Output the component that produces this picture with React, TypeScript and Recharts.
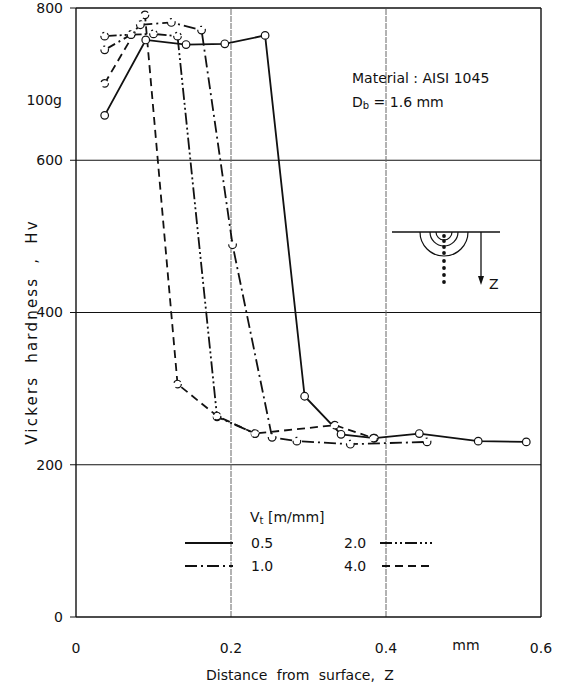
import React from 'react';
import { LineChart, Line, XAxis, YAxis, CartesianGrid, ReferenceLine } from 'recharts';

// distance from surface (mm) and hardness (Hv) for each feed rate Vt
const z05 = [0.037, 0.09, 0.142, 0.192, 0.244, 0.295, 0.342, 0.385, 0.443, 0.519, 0.581];
const hv05 = [659, 758, 752, 753, 764, 290, 240, 235, 241, 231, 230];

const z10 = [0.037, 0.071, 0.083, 0.123, 0.162, 0.202, 0.253, 0.285, 0.354, 0.453];
const hv10 = [745, 765, 778, 781, 771, 489, 236, 231, 227, 230];

const z20 = [0.037, 0.071, 0.1, 0.131, 0.182, 0.231];
const hv20 = [763, 765, 766, 763, 263, 241];

const z40 = [0.037, 0.089, 0.131, 0.182, 0.231, 0.334, 0.384];
const hv40 = [701, 791, 306, 264, 241, 252, 235];

const xTicks = [0, 0.2, 0.4, 0.6];
const yTicks = [0, 200, 400, 600, 800];

const toRows = (zs: number[], hs: number[]) => zs.map((z, i) => ({ z, hv: hs[i] }));

const series = [
  { name: '0.5', data: toRows(z05, hv05), dash: undefined },
  { name: '1.0', data: toRows(z10, hv10), dash: '12 4 2 4' },
  { name: '2.0', data: toRows(z20, hv20), dash: '12 3 2 3 2 3' },
  { name: '4.0', data: toRows(z40, hv40), dash: '8 5' },
];

const dot = { r: 3.8, fill: '#fff', stroke: '#111', strokeWidth: 1.2 };
const font = '"DejaVu Sans", sans-serif';

const App: React.FC = () => {
  return (
    <div style={{ position: 'absolute', left: 0, top: 0, width: 562, height: 683, background: '#fff', fontFamily: font }}>
      <LineChart width={562} height={683} margin={{ top: 8, right: 21, bottom: 16, left: 0 }}>
        <CartesianGrid vertical={false} stroke="#111" strokeWidth={1.2} horizontalValues={[200, 400, 600]} />
        <ReferenceLine x={0.2} stroke="#666" strokeWidth={1} strokeDasharray="6 1" />
        <ReferenceLine x={0.4} stroke="#666" strokeWidth={1} strokeDasharray="6 1" />
        <ReferenceLine x={0.6} stroke="#111" strokeWidth={1.4} />
        <ReferenceLine y={800} stroke="#111" strokeWidth={1.4} />
        <XAxis
          dataKey="z"
          type="number"
          domain={[0, 0.6]}
          ticks={xTicks}
          tickFormatter={(v: number) => (v === 0 ? '0' : String(v))}
          tickLine={false}
          tickMargin={20}
          height={50}
          axisLine={{ stroke: '#111', strokeWidth: 1.4 }}
          tick={{ fill: '#111', fontSize: 14 }}
        />
        <YAxis
          dataKey="hv"
          type="number"
          domain={[0, 800]}
          ticks={yTicks}
          width={76}
          tickMargin={7}
          tickLine={{ stroke: '#111' }}
          axisLine={{ stroke: '#111', strokeWidth: 1.4 }}
          tick={{ fill: '#111', fontSize: 14 }}
        />
        {series.map((s) => (
          <Line
            key={s.name}
            data={s.data}
            dataKey="hv"
            type="linear"
            stroke="#111"
            strokeWidth={1.8}
            strokeDasharray={s.dash}
            dot={dot}
            activeDot={false}
            isAnimationActive={false}
          />
        ))}
      </LineChart>

      <svg
        width={562}
        height={683}
        style={{ position: 'absolute', left: 0, top: 0, pointerEvents: 'none', fontFamily: font }}
      >
        <text x={62} y={105} fontSize={14} textAnchor="end" fill="#111">100g</text>
        <text x={466} y={650} fontSize={14} textAnchor="middle" fill="#111">mm</text>
        <text x={300} y={680} fontSize={14} textAnchor="middle" fill="#111" wordSpacing={5}>
          Distance from surface, Z
        </text>
        <text
          x={0}
          y={0}
          fontSize={15}
          textAnchor="middle"
          fill="#111"
          letterSpacing={2.2}
          wordSpacing={6}
          transform="translate(37 332) rotate(-90)"
        >
          Vickers hardness , Hv
        </text>

        <text x={352} y={83} fontSize={14} fill="#111">Material : AISI 1045</text>
        <text x={352} y={107} fontSize={14} fill="#111">
          D<tspan fontSize={10} dy={2}>b</tspan>
          <tspan dy={-2}> = 1.6 mm</tspan>
        </text>

        {/* indentation sketch */}
        <line x1={392} y1={232} x2={500} y2={232} stroke="#111" strokeWidth={1.3} />
        <path d="M 436 232 A 8 8 0 0 0 452 232" fill="none" stroke="#111" strokeWidth={1.2} />
        <path d="M 430 232 A 14 14 0 0 0 458 232" fill="none" stroke="#111" strokeWidth={1.2} />
        <path d="M 420 232 A 24 24 0 0 0 468 232" fill="none" stroke="#111" strokeWidth={1.2} />
        {[236, 241, 247, 253, 261, 268, 275, 282].map((y) => (
          <circle key={y} cx={444} cy={y} r={1.9} fill="#111" />
        ))}
        <line x1={481} y1={232} x2={481} y2={278} stroke="#111" strokeWidth={1.3} />
        <path d="M 478 276 L 481 285 L 484 276 Z" fill="#111" />
        <text x={489} y={289} fontSize={14} fill="#111">Z</text>

        {/* legend */}
        <text x={250} y={522} fontSize={14} fill="#111">
          V<tspan fontSize={10} dy={2}>t</tspan>
          <tspan dy={-2}> [m/mm]</tspan>
        </text>
        <line x1={185} y1={543} x2={233} y2={543} stroke="#111" strokeWidth={1.8} />
        <text x={251} y={548} fontSize={14} fill="#111">0.5</text>
        <text x={344} y={548} fontSize={14} fill="#111">2.0</text>
        <line x1={380} y1={543} x2={432} y2={543} stroke="#111" strokeWidth={1.8} strokeDasharray="12 3 2 3 2 3" />
        <line x1={185} y1={566} x2={233} y2={566} stroke="#111" strokeWidth={1.8} strokeDasharray="12 4 2 4" />
        <text x={251} y={571} fontSize={14} fill="#111">1.0</text>
        <text x={344} y={571} fontSize={14} fill="#111">4.0</text>
        <line x1={382} y1={566} x2={432} y2={566} stroke="#111" strokeWidth={1.8} strokeDasharray="8 5" />
      </svg>
    </div>
  );
};

export default App;
